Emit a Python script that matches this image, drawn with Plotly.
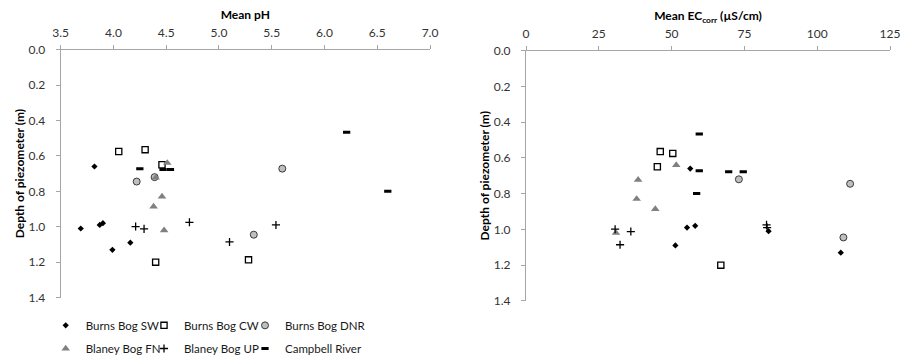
import plotly.graph_objects as go

# ---------------- data ----------------
series_names = ["Burns Bog SW", "Burns Bog CW", "Burns Bog DNR",
                "Blaney Bog FN", "Blaney Bog UP", "Campbell River"]

sw_depth = [0.66, 1.01, 0.99, 0.98, 1.09, 1.13]
sw_ph    = [3.82, 3.69, 3.87, 3.90, 4.16, 3.99]
sw_ec    = [56.4, 83.3, 55.3, 58.1, 51.3, 108.1]

cw_depth = [0.575, 0.565, 0.65, 1.20, 1.187]
cw_ph    = [4.05, 4.30, 4.46, 4.40, 5.28]
cw_ec    = [50.4, 46.1, 45.1, 66.9, None]

dnr_depth = [0.745, 0.72, 0.672, 1.045]
dnr_ph    = [4.22, 4.39, 5.60, 5.33]
dnr_ec    = [111.3, 73.1, None, 109.0]

fn_depth = [0.64, 0.723, 0.83, 0.886, 1.02]
fn_ph    = [4.51, 4.40, 4.46, 4.38, 4.48]
fn_ec    = [51.6, 38.5, 38.0, 44.4, 30.9]

up_depth = [0.999, 1.012, 0.975, 0.99, 1.086]
up_ph    = [4.21, 4.29, 4.72, 5.54, 5.10]
up_ec    = [30.6, 36.0, 82.6, 82.8, 32.3]

cr_depth = [0.467, 0.80, 0.672, 0.677, 0.677]
cr_ph    = [6.21, 6.60, 4.25, 4.47, 4.54]
cr_ec    = [59.5, 58.6, 59.5, 69.6, 74.6]

ph_ticks = [3.5, 4.0, 4.5, 5.0, 5.5, 6.0, 6.5, 7.0]
ec_ticks = [0, 25, 50, 75, 100, 125]
depth_ticks = [0.0, 0.2, 0.4, 0.6, 0.8, 1.0, 1.2, 1.4]

# ---------------- styles ----------------
FONT = "Lato, Carlito, Calibri, sans-serif"
styles = [
    dict(symbol="diamond", size=4.8, color="black", line=dict(width=0)),
    dict(symbol="square-open", size=6.2, color="black", line=dict(width=1.3)),
    dict(symbol="circle", size=7, color="#bfbfbf", line=dict(width=1, color="#3a3a3a")),
    dict(symbol="triangle-up", size=7.5, color="#808080", line=dict(width=0)),
    dict(symbol="cross-thin-open", size=5.8, color="black", line=dict(width=1.3)),
    dict(symbol="line-ew-open", size=5.2, color="black", line=dict(width=3, color="black")),
]
depths = [sw_depth, cw_depth, dnr_depth, fn_depth, up_depth, cr_depth]
phs = [sw_ph, cw_ph, dnr_ph, fn_ph, up_ph, cr_ph]
ecs = [sw_ec, cw_ec, dnr_ec, fn_ec, up_ec, cr_ec]
legend_ids = ["legend", "legend2", "legend3", "legend4", "legend5", "legend6"]

fig = go.Figure()
for i, name in enumerate(series_names):
    fig.add_trace(go.Scatter(
        x=phs[i], y=depths[i], mode="markers", name=name,
        marker=styles[i], xaxis="x", yaxis="y", legend=legend_ids[i],
    ))
for i, name in enumerate(series_names):
    fig.add_trace(go.Scatter(
        x=ecs[i], y=depths[i], mode="markers", name=name,
        marker=styles[i], xaxis="x2", yaxis="y2", showlegend=False,
    ))

W, H = 901, 363
axis_common = dict(
    showline=True, linecolor="#a6a6a6", linewidth=1,
    ticks="outside", tickcolor="#a6a6a6", ticklen=4, tickwidth=1,
    showgrid=False, zeroline=False, automargin=False,
    ticklabeloverflow="allow",
    tickfont=dict(family=FONT, size=12, color="#333333"),
)
title_font = dict(family=FONT, size=12, color="black", weight="bold")

# legend entry placement (column / row positions in px)
col_x = [45.7, 144, 245]
row_y = [332.7, 356.7]
legends = {}
for i, lid in enumerate(legend_ids):
    legends[lid] = dict(
        orientation="h", x=col_x[i % 3] / W, xanchor="left",
        y=(H - row_y[i // 3]) / H, yanchor="middle",
        font=dict(family=FONT, size=11.5, color="#1a1a1a"),
        bgcolor="rgba(0,0,0,0)", borderwidth=0,
    )

fig.update_layout(
    template="none",
    width=W, height=H,
    margin=dict(l=0, r=0, t=0, b=0),
    paper_bgcolor="white", plot_bgcolor="white",
    font=dict(family=FONT, size=12, color="black"),
    xaxis=dict(**axis_common, domain=[60.7 / W, 430 / W], anchor="y", side="top",
               range=[3.5, 7.0], tickvals=ph_ticks, tickformat=".1f",
               ticklabelstandoff=3,
               title=dict(text="Mean pH", font=title_font, standoff=2)),
    yaxis=dict(**axis_common, domain=[(H - 304.3) / H, (H - 50.7) / H], anchor="x",
               range=[1.4, 0.0], tickvals=depth_ticks, tickformat=".1f",
               ticklabelstandoff=8,
               title=dict(text="Depth of piezometer (m)", font=title_font, standoff=1)),
    xaxis2=dict(**axis_common, domain=[526 / W, 890 / W], anchor="y2", side="top",
                range=[0, 125], tickvals=ec_ticks,
                ticklabelstandoff=3,
                title=dict(text="Mean EC<sub>corr</sub> (µS/cm)", font=title_font, standoff=2)),
    yaxis2=dict(**axis_common, domain=[(H - 307.7) / H, (H - 51.7) / H], anchor="x2",
                range=[1.4, 0.0], tickvals=depth_ticks, tickformat=".1f",
                ticklabelstandoff=8,
                title=dict(text="Depth of piezometer (m)", font=title_font, standoff=1)),
    **legends,
)

fig.write_html("out.html",
               config={"displayModeBar": False},
               post_script="document.body.style.margin='0';document.body.style.overflow='hidden';")
